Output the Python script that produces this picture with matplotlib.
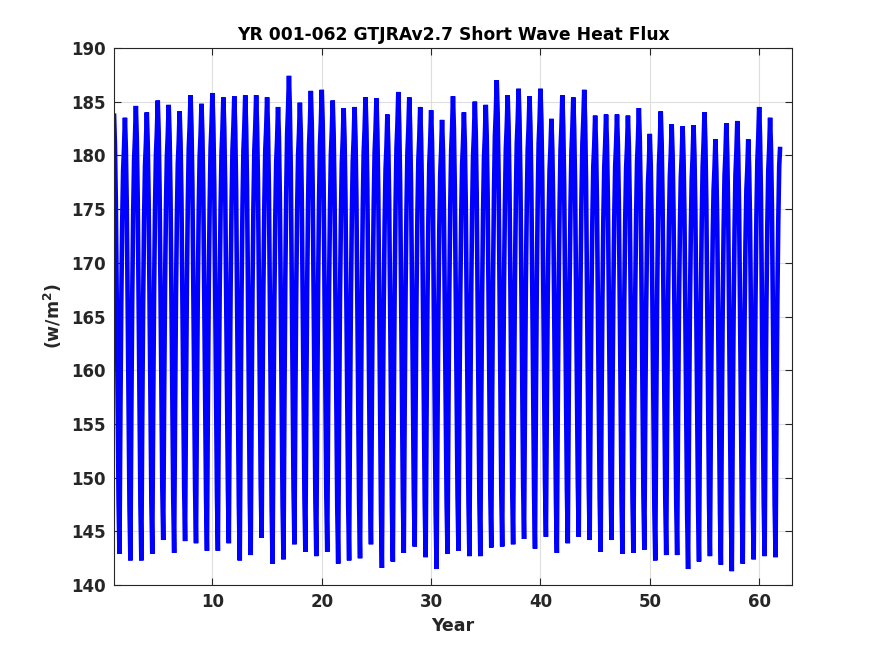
import numpy as np
import matplotlib
matplotlib.use("Agg")
import matplotlib.pyplot as plt

# Monthly values (Jan..Dec) for model years 1..61
monthly = [
    [183.9,181.0,175.7,166.7,156.8,147.8,142.9,155.9,166.4,173.8,178.6,180.7],
    [183.5,180.6,175.3,166.2,156.3,147.2,142.3,155.8,166.8,174.4,179.5,181.6],
    [184.6,181.6,176.1,166.8,156.7,147.4,142.3,155.6,166.5,174.0,179.0,181.1],
    [184.0,181.1,175.8,166.7,156.9,147.8,142.9,156.4,167.4,175.0,180.0,182.1],
    [185.1,182.2,176.9,167.9,158.1,149.1,144.2,157.2,167.7,175.0,179.8,181.9],
    [184.7,181.8,176.4,167.2,157.2,148.0,143.0,156.2,166.8,174.2,179.2,181.2],
    [184.1,181.3,176.1,167.3,157.7,148.9,144.1,157.4,168.2,175.6,180.6,182.7],
    [185.6,182.7,177.3,168.1,158.1,148.9,143.9,157.0,167.6,175.0,179.9,181.9],
    [184.8,181.9,176.5,167.3,157.3,148.2,143.2,156.8,167.9,175.6,180.7,182.8],
    [185.8,182.8,177.3,167.9,157.7,148.3,143.2,156.7,167.7,175.3,180.3,182.4],
    [185.4,182.5,177.1,168.0,158.0,148.9,143.9,157.2,168.0,175.5,180.5,182.6],
    [185.5,182.5,176.9,167.4,157.0,147.5,142.3,156.2,167.4,175.2,180.4,182.6],
    [185.6,182.6,177.0,167.6,157.4,147.9,142.8,156.5,167.6,175.3,180.5,182.6],
    [185.6,182.7,177.4,168.3,158.4,149.3,144.4,157.5,168.2,175.6,180.5,182.5],
    [185.4,182.4,176.7,167.2,156.8,147.2,142.0,155.6,166.7,174.3,179.4,181.5],
    [184.5,181.6,176.1,166.8,156.7,147.5,142.4,156.8,168.5,176.6,182.0,184.3],
    [187.4,184.3,178.7,169.1,158.6,149.0,143.8,157.0,167.6,175.0,180.0,182.0],
    [184.9,182.0,176.5,167.3,157.3,148.1,143.1,156.8,168.0,175.7,180.9,183.0],
    [186.0,183.0,177.3,167.8,157.4,147.9,142.7,156.6,167.9,175.7,180.9,183.1],
    [186.1,183.1,177.5,168.0,157.7,148.3,143.1,156.5,167.5,175.0,180.1,182.2],
    [185.1,182.1,176.5,167.0,156.7,147.2,142.0,155.6,166.6,174.2,179.3,181.4],
    [184.4,181.5,176.0,166.7,156.6,147.4,142.3,155.8,166.8,174.4,179.4,181.5],
    [184.5,181.6,176.1,166.9,156.8,147.5,142.5,156.2,167.4,175.1,180.3,182.4],
    [185.4,182.5,177.1,167.9,157.9,148.8,143.8,157.1,167.9,175.3,180.3,182.4],
    [185.3,182.2,176.6,166.9,156.5,146.8,141.6,155.1,166.1,173.7,178.7,180.8],
    [183.8,180.9,175.5,166.3,156.3,147.2,142.2,156.2,167.5,175.4,180.7,182.8],
    [185.9,182.9,177.3,167.9,157.6,148.1,143.0,156.6,167.6,175.2,180.3,182.4],
    [185.4,182.5,177.0,167.8,157.8,148.6,143.6,156.7,167.3,174.7,179.6,181.6],
    [184.5,181.6,176.1,166.9,156.8,147.6,142.6,155.9,166.7,174.2,179.2,181.3],
    [184.2,181.2,175.7,166.3,156.0,146.6,141.5,154.9,165.7,173.3,178.3,180.4],
    [183.3,180.5,175.2,166.3,156.6,147.7,142.9,156.5,167.6,175.3,180.4,182.5],
    [185.5,182.5,177.0,167.7,157.6,148.3,143.2,156.3,166.9,174.2,179.1,181.1],
    [184.0,181.1,175.7,166.7,156.7,147.7,142.7,156.2,167.2,174.8,179.9,182.0],
    [185.0,182.0,176.5,167.2,157.1,147.8,142.7,156.1,167.1,174.6,179.7,181.8],
    [184.7,181.8,176.5,167.4,157.5,148.4,143.5,157.4,168.7,176.6,181.8,184.0],
    [187.0,184.0,178.3,168.8,158.4,148.8,143.6,157.0,168.0,175.5,180.6,182.7],
    [185.6,182.7,177.2,168.0,158.0,148.8,143.8,157.4,168.4,176.0,181.1,183.2],
    [186.2,183.3,177.8,168.6,158.5,149.3,144.3,157.5,168.2,175.6,180.6,182.6],
    [185.5,182.6,177.1,167.8,157.7,148.5,143.4,157.1,168.2,175.9,181.1,183.2],
    [186.2,183.3,177.9,168.7,158.7,149.5,144.5,156.9,167.1,174.1,178.7,180.7],
    [183.4,180.6,175.3,166.4,156.7,147.8,143.0,156.6,167.7,175.4,180.5,182.6],
    [185.6,182.7,177.3,168.1,158.1,148.9,143.9,157.2,168.0,175.4,180.4,182.5],
    [185.4,182.5,177.2,168.2,158.4,149.4,144.5,157.8,168.6,176.1,181.1,183.2],
    [186.1,183.2,177.7,168.5,158.4,149.2,144.2,156.8,167.1,174.2,179.0,180.9],
    [183.7,180.9,175.6,166.6,156.9,148.0,143.1,156.1,166.7,174.0,178.9,181.0],
    [183.8,181.0,175.9,167.2,157.7,149.0,144.2,156.9,167.2,174.3,179.0,181.0],
    [183.8,180.9,175.6,166.6,156.8,147.8,142.9,156.0,166.6,173.9,178.8,180.8],
    [183.7,180.9,175.6,166.6,156.8,147.9,143.0,156.2,167.0,174.5,179.4,181.5],
    [184.4,181.5,176.2,167.1,157.3,148.2,143.3,155.7,165.7,172.7,177.4,179.3],
    [182.0,179.2,174.1,165.3,155.8,147.1,142.3,155.7,166.5,174.1,179.1,181.2],
    [184.1,181.2,175.8,166.8,156.8,147.8,142.8,155.6,166.1,173.3,178.1,180.1],
    [182.9,180.1,174.9,166.1,156.4,147.6,142.8,155.6,165.9,173.1,177.9,179.9],
    [182.7,179.8,174.5,165.4,155.5,146.4,141.5,154.7,165.5,172.9,177.8,179.9],
    [182.8,180.0,174.7,165.7,156.0,147.1,142.2,155.6,166.4,174.0,179.0,181.1],
    [184.0,181.1,175.7,166.7,156.7,147.7,142.7,155.1,165.2,172.2,176.8,178.8],
    [181.5,178.7,173.6,164.9,155.4,146.7,141.9,155.1,165.7,173.1,178.1,180.1],
    [183.0,180.1,174.7,165.5,155.5,146.3,141.3,154.7,165.6,173.1,178.2,180.3],
    [183.2,180.3,175.0,165.9,156.0,146.9,142.0,154.6,164.9,172.0,176.8,178.7],
    [181.5,178.8,173.7,165.1,155.7,147.1,142.4,155.9,166.8,174.4,179.4,181.6],
    [184.5,181.6,176.1,166.9,156.9,147.7,142.7,155.8,166.4,173.7,178.6,180.6],
    [183.5,180.6,175.3,166.3,156.5,147.5,142.6,156.0,166.8,174.0,179.0,180.8],
]
first_year = 1
x_ticks = [10, 20, 30, 40, 50, 60]
y_ticks = [140, 145, 150, 155, 160, 165, 170, 175, 180, 185, 190]
title = "YR 001-062 GTJRAv2.7 Short Wave Heat Flux"
xlabel = "Year"
ylabel = r"(w/m$^2$)"

values = np.array(monthly).ravel()
years = first_year + np.arange(values.size) / 12.0

dark = (0.15, 0.15, 0.15)
plt.rcParams['font.family'] = ['DejaVu Sans']
plt.rcParams['font.weight'] = 'bold'
plt.rcParams['mathtext.default'] = 'bf'

fig = plt.figure(figsize=(8.75, 6.56), dpi=100)
ax = fig.add_axes([0.1303, 0.108, 0.7748, 0.819])
ax.plot(years, values, color=(0, 0, 1), linewidth=3.3,
        solid_joinstyle='miter', solid_capstyle='butt')

ax.set_xlim(1, 63)
ax.set_ylim(140, 190)
ax.set_xticks(x_ticks)
ax.set_yticks(y_ticks)
ax.grid(True, color=(0.87, 0.87, 0.87), linewidth=0.8)
ax.set_axisbelow(True)
ax.tick_params(direction='in', length=5, width=0.8, colors=dark,
               labelsize=12, top=True, right=True, pad=6)
for lab in ax.get_xticklabels() + ax.get_yticklabels():
    lab.set_fontweight('bold')
for sp in ax.spines.values():
    sp.set_color(dark)
    sp.set_linewidth(0.8)

ax.set_title(title, fontsize=12.3, fontweight='bold', color='black', pad=6)
ax.set_xlabel(xlabel, fontsize=12.5, fontweight='bold', color=dark, labelpad=4)
ax.set_ylabel(ylabel, fontsize=12.5, fontweight='bold', color=dark, labelpad=5)

fig.savefig("out.png", dpi=100)
